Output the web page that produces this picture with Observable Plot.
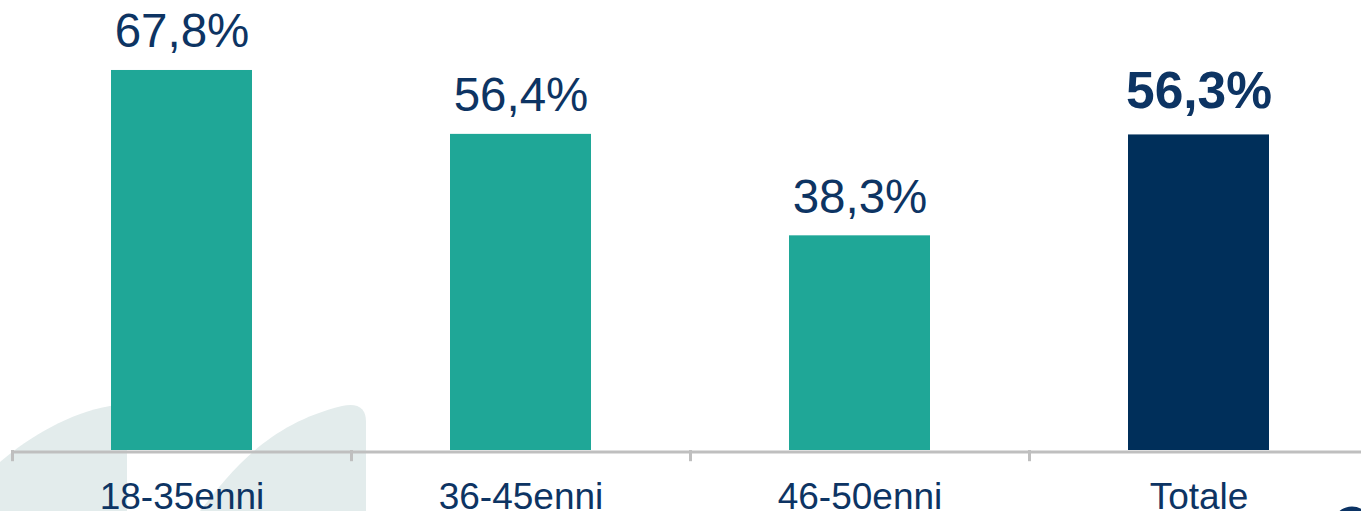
<!DOCTYPE html>
<html>
<head>
<meta charset="utf-8">
<script src="https://cdn.jsdelivr.net/npm/d3@7"></script>
<script src="https://cdn.jsdelivr.net/npm/@observablehq/plot@0.6"></script>
<style>
  html, body { margin: 0; padding: 0; background: #ffffff; overflow: hidden; }
  #wrap { position: relative; width: 1361px; height: 511px; }
  #deco { position: absolute; left: 0; top: 0; z-index: 0; }
  #chart { position: absolute; left: 0; top: 0; z-index: 1; }
</style>
</head>
<body>
<div id="wrap">
  <svg id="deco" width="1361" height="511" aria-hidden="true">
    <path d="M0,462 C30,436 70,413 110,406 L127,404 L127,511 L0,511 Z" fill="#e3ecec"/>
    <path d="M200,511 C232,470 268,424 342,406 Q366,401 366,422 L366,511 Z" fill="#e3ecec"/>
    <circle cx="1352" cy="526" r="17" fill="none" stroke="#0b3364" stroke-width="5"/>
  </svg>
  <div id="chart"></div>
</div>
<script>
const categories = ["18-35enni", "36-45enni", "46-50enni", "Totale"];
const values = [67.8, 56.4, 38.3, 56.3];
const highlight = [false, false, false, true];

const data = categories.map((c, i) => ({category: c, value: values[i], total: highlight[i]}));
const fmt = v => v.toFixed(1).replace(".", ",") + "%";
const textColor = "#0d3463";
const font = "'Liberation Sans', Arial, sans-serif";

const chart = Plot.plot({
  width: 1361,
  height: 511,
  marginLeft: 12,
  marginRight: 0,
  marginTop: 0,
  marginBottom: 0,
  style: {background: "transparent", fontFamily: font, overflow: "visible"},
  x: {domain: categories, range: [12, 1368], paddingInner: 0.584, paddingOuter: 0.292, axis: null},
  y: {domain: [0, 80], range: [450, 1.6], axis: null},
  color: {domain: [false, true], range: ["#1fa797", "#002f5a"]},
  marks: [
    Plot.barY(data, {x: "category", y: "value", fill: "total"}),
    Plot.ruleY([0], {stroke: "#bfbfbf", strokeWidth: 3, dy: 1.5}),
    Plot.ruleX(data, {x: "category", y1: 0, y2: -2, dx: -169.5, stroke: "#bfbfbf", strokeWidth: 3}),
    Plot.text(data.filter(d => !d.total), {
      x: "category", y: "value", text: d => fmt(d.value),
      lineAnchor: "bottom", dy: -23, fontSize: 47.5, fill: textColor
    }),
    Plot.text(data.filter(d => d.total), {
      x: "category", y: "value", text: d => fmt(d.value),
      lineAnchor: "bottom", dy: -27, fontSize: 51.5, fontWeight: "bold", fill: textColor
    }),
    Plot.text(data, {
      x: "category", text: "category", frameAnchor: "bottom",
      lineAnchor: "bottom", dy: -3, fontSize: 37, fill: textColor
    })
  ]
});
document.getElementById("chart").appendChild(chart);
</script>
</body>
</html>
